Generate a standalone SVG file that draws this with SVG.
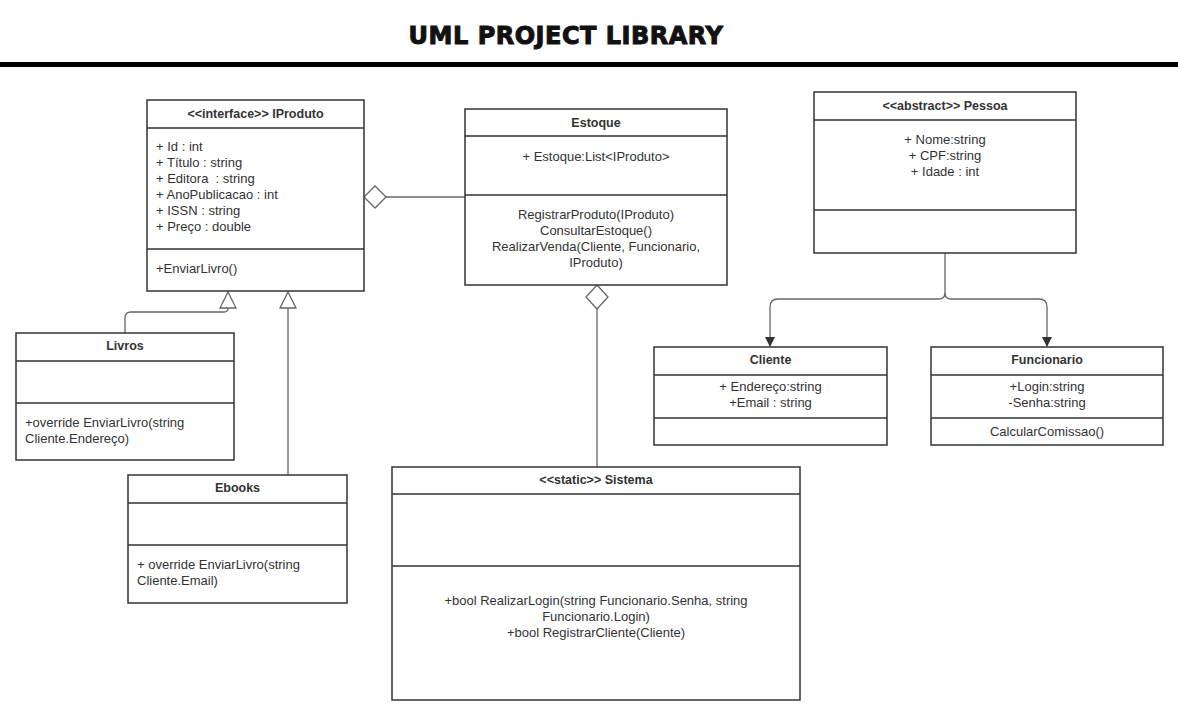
<svg xmlns="http://www.w3.org/2000/svg" width="1178" height="712" viewBox="0 0 1178 712">
<style>
.box{fill:#fff;stroke:#333;stroke-width:1.5}
.div{stroke:#333;stroke-width:1.3}
.t{font-family:"Liberation Sans",Arial,sans-serif;font-size:13px;fill:#333}
.h{font-weight:bold;text-anchor:middle;font-size:12.5px}
.c{text-anchor:middle}
.con{fill:none;stroke:#666;stroke-width:1.3}
.tri{fill:#fff;stroke:#666;stroke-width:1.3}
.title{font-family:"DejaVu Sans",sans-serif;font-weight:900;font-size:24px;fill:#111;text-anchor:middle;letter-spacing:0.5px;stroke:#111;stroke-width:1}
</style>
<defs>
<marker id="arr" markerWidth="10" markerHeight="10" refX="9" refY="5" orient="auto" markerUnits="userSpaceOnUse">
<path d="M0,0 L10,5 L0,10 Z" fill="#333"/>
</marker>
</defs>
<rect width="1178" height="712" fill="#fff"/>
<g id="title">
<text class="title" x="566" y="44">UML PROJECT LIBRARY</text>
<rect x="0" y="62" width="1178" height="5" fill="#000"/>
</g>
<g id="connectors">
<path class="con" d="M386,197 H465"/>
<path class="tri" d="M364,197 L375,186 L386,197 L375,208 Z"/>
<path class="con" d="M597,309 V467"/>
<path class="tri" d="M597,285 L608,297 L597,309 L586,297 Z"/>
<path class="con" d="M125,333 V318 Q125,312 131,312 H224 Q228,312 228,308"/>
<path class="tri" d="M228,292 L236,308 L220,308 Z"/>
<path class="con" d="M288,475 V308"/>
<path class="tri" d="M288,292 L296,308 L280,308 Z"/>
<path class="con" d="M945,253 V293 Q945,299 939,299 H778 Q770,299 770,307 V346" marker-end="url(#arr)"/>
<path class="con" d="M945,293 Q945,299 951,299 H1039 Q1047,299 1047,307 V346" marker-end="url(#arr)"/>
</g>
<g id="IProduto">
<rect class="box" x="147" y="100" width="217" height="191"/>
<line class="div" x1="147" y1="128" x2="364" y2="128"/>
<line class="div" x1="147" y1="249" x2="364" y2="249"/>
<text class="t h" x="255.5" y="118">&lt;&lt;interface&gt;&gt; IProduto</text>
<text class="t" x="156" y="151">+ Id : int</text>
<text class="t" x="156" y="167">+ Título : string</text>
<text class="t" x="156" y="183" xml:space="preserve">+ Editora  : string</text>
<text class="t" x="156" y="199">+ AnoPublicacao : int</text>
<text class="t" x="156" y="215">+ ISSN : string</text>
<text class="t" x="156" y="231">+ Preço : double</text>
<text class="t" x="156" y="273">+EnviarLivro()</text>
</g>
<g id="Estoque">
<rect class="box" x="465" y="109" width="262" height="176"/>
<line class="div" x1="465" y1="136" x2="727" y2="136"/>
<line class="div" x1="465" y1="195" x2="727" y2="195"/>
<text class="t h" x="596" y="127">Estoque</text>
<text class="t c" x="596" y="161">+ Estoque:List&lt;IProduto&gt;</text>
<text class="t c" x="596" y="219">RegistrarProduto(IProduto)</text>
<text class="t c" x="596" y="235">ConsultarEstoque()</text>
<text class="t c" x="596" y="251">RealizarVenda(Cliente, Funcionario,</text>
<text class="t c" x="596" y="267">IProduto)</text>
</g>
<g id="Pessoa">
<rect class="box" x="814" y="92" width="262" height="161"/>
<line class="div" x1="814" y1="120" x2="1076" y2="120"/>
<line class="div" x1="814" y1="210" x2="1076" y2="210"/>
<text class="t h" x="945" y="110">&lt;&lt;abstract&gt;&gt; Pessoa</text>
<text class="t c" x="945" y="144">+ Nome:string</text>
<text class="t c" x="945" y="160">+ CPF:string</text>
<text class="t c" x="945" y="176">+ Idade : int</text>
</g>
<g id="Cliente">
<rect class="box" x="654" y="347" width="233" height="98"/>
<line class="div" x1="654" y1="375" x2="887" y2="375"/>
<line class="div" x1="654" y1="418" x2="887" y2="418"/>
<text class="t h" x="770.5" y="364">Cliente</text>
<text class="t c" x="770.5" y="391">+ Endereço:string</text>
<text class="t c" x="770.5" y="407">+Email : string</text>
</g>
<g id="Funcionario">
<rect class="box" x="931" y="347" width="232" height="98"/>
<line class="div" x1="931" y1="375" x2="1163" y2="375"/>
<line class="div" x1="931" y1="418" x2="1163" y2="418"/>
<text class="t h" x="1047" y="364">Funcionario</text>
<text class="t c" x="1047" y="391">+Login:string</text>
<text class="t c" x="1047" y="407">-Senha:string</text>
<text class="t c" x="1047" y="436">CalcularComissao()</text>
</g>
<g id="Livros">
<rect class="box" x="16" y="333" width="218" height="127"/>
<line class="div" x1="16" y1="361" x2="234" y2="361"/>
<line class="div" x1="16" y1="403" x2="234" y2="403"/>
<text class="t h" x="125" y="350">Livros</text>
<text class="t" x="25" y="427">+override EnviarLivro(string</text>
<text class="t" x="25" y="443">Cliente.Endereço)</text>
</g>
<g id="Ebooks">
<rect class="box" x="128" y="475" width="219" height="128"/>
<line class="div" x1="128" y1="503" x2="347" y2="503"/>
<line class="div" x1="128" y1="545" x2="347" y2="545"/>
<text class="t h" x="237.5" y="492">Ebooks</text>
<text class="t" x="137" y="569">+ override EnviarLivro(string</text>
<text class="t" x="137" y="585">Cliente.Email)</text>
</g>
<g id="Sistema">
<rect class="box" x="392" y="467" width="408" height="233"/>
<line class="div" x1="392" y1="494" x2="800" y2="494"/>
<line class="div" x1="392" y1="566" x2="800" y2="566"/>
<text class="t h" x="596" y="484">&lt;&lt;static&gt;&gt; Sistema</text>
<text class="t c" x="596" y="605">+bool RealizarLogin(string Funcionario.Senha, string</text>
<text class="t c" x="596" y="621">Funcionario.Login)</text>
<text class="t c" x="596" y="637">+bool RegistrarCliente(Cliente)</text>
</g>
</svg>
